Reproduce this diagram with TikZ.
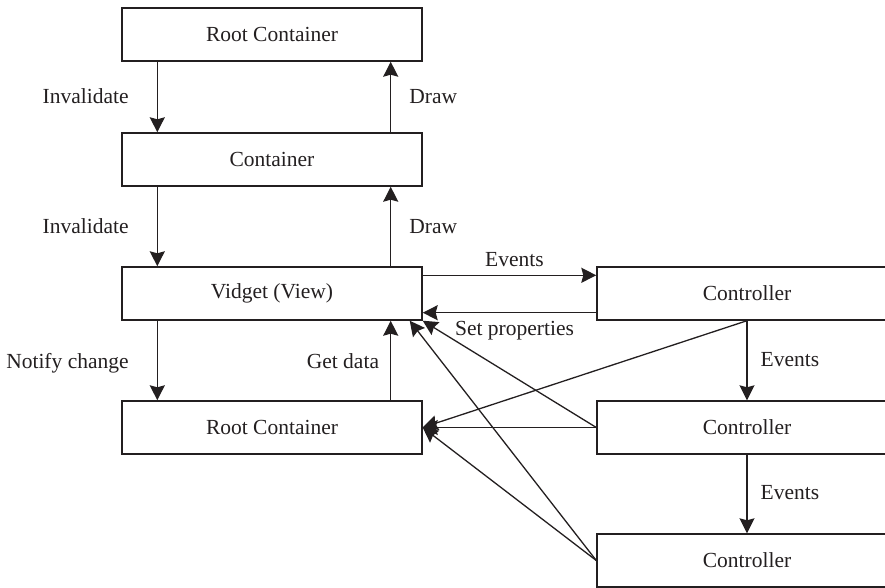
\documentclass[tikz,border=0pt]{standalone}
\usepackage{fontspec}
\setmainfont{Liberation Serif}
\usetikzlibrary{arrows.meta}
\definecolor{ink}{RGB}{35,31,32}
\begin{document}
\begin{tikzpicture}[x=1pt,y=-1pt,
  font=\fontsize{21.5pt}{26pt}\selectfont,
  box/.style={draw=ink, line width=1.4pt, minimum width=300pt, minimum height=53pt, inner sep=0pt, text=ink},
  flow/.style={draw=ink, line width=1.3pt, -{Stealth[length=15pt,width=15pt,inset=2pt]}},
  lbl/.style={text=ink, inner sep=0pt}
]
\useasboundingbox (0,0) rectangle (885,588);

% view hierarchy
\node[box] (rc1)  at (272,34.5)  {Root Container};
\node[box] (cont) at (272,159.5) {Container};
\node[box] (vid)  at (272,293.5) {Vidget (View)};
\node[box] (rc2)  at (272,427.5) {Root Container};

% controllers
\node[box] (c1) at (747,293.5) {Controller};
\node[box] (c2) at (747,427.5) {Controller};
\node[box] (c3) at (747,560.5) {Controller};

% invalidate / draw cycle
\draw[flow] ([xshift=36pt]rc1.south west) -- ([xshift=36pt]cont.north west)
  node[midway, lbl, anchor=base east, xshift=-28pt, yshift=-7pt] {Invalidate};
\draw[flow] ([xshift=-32pt]cont.north east) -- ([xshift=-32pt]rc1.south east)
  node[midway, lbl, anchor=base west, xshift=18pt, yshift=-7pt] {Draw};
\draw[flow] ([xshift=36pt]cont.south west) -- ([xshift=36pt]vid.north west)
  node[midway, lbl, anchor=base east, xshift=-28pt, yshift=-7pt] {Invalidate};
\draw[flow] ([xshift=-32pt]vid.north east) -- ([xshift=-32pt]cont.south east)
  node[midway, lbl, anchor=base west, xshift=18pt, yshift=-7pt] {Draw};
\draw[flow] ([xshift=36pt]vid.south west) -- ([xshift=36pt]rc2.north west)
  node[midway, lbl, anchor=base east, xshift=-28pt, yshift=-8pt] {Notify change};
\draw[flow] ([xshift=-32pt]rc2.north east) -- ([xshift=-32pt]vid.south east)
  node[midway, lbl, anchor=base east, xshift=-11pt, yshift=-8pt] {Get data};

% view <-> controller
\draw[flow] ([yshift=-9pt]vid.north east) -- ([yshift=-9pt]c1.north west)
  node[midway, lbl, anchor=base, xshift=5pt, yshift=9pt] {Events};
\draw[flow] ([yshift=8pt]c1.south west) -- ([yshift=8pt]vid.south east)
  node[midway, lbl, anchor=base, xshift=5pt, yshift=-23pt] {Set properties};

% controller chain
\draw[flow] (c1.south) -- (c2.north)
  node[midway, lbl, anchor=base west, xshift=13pt, yshift=-6pt] {Events};
\draw[flow] (c2.south) -- (c3.north)
  node[midway, lbl, anchor=base west, xshift=13pt, yshift=-5pt] {Events};

% controllers reaching back to view and model
\draw[flow] (c1.south) -- (rc2.east);
\draw[flow] (c2.west) -- (rc2.east);
\draw[flow] (c2.west) -- (vid.south east);
\draw[flow] (c3.west) -- ([xshift=-13pt]vid.south east);
\draw[flow] (c3.west) -- (rc2.east);
\end{tikzpicture}
\end{document}
